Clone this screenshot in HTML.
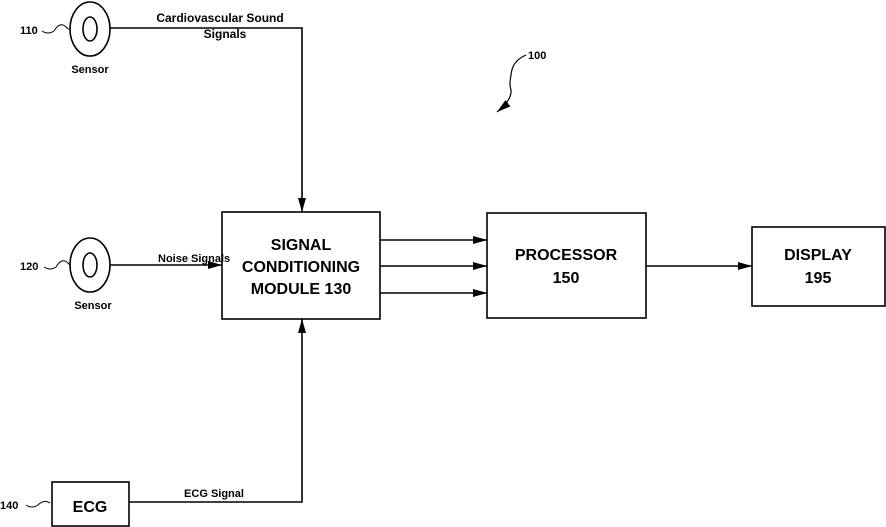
<!DOCTYPE html>
<html><head><style>
html,body{margin:0;padding:0;background:#fff;}
svg{display:block;}
text{font-family:"Liberation Sans",sans-serif;font-weight:bold;fill:#000;}
</style></head><body>
<svg width="886" height="527" viewBox="0 0 886 527" xmlns="http://www.w3.org/2000/svg">
<defs>
<marker id="a" markerWidth="14" markerHeight="10" refX="14" refY="5" orient="auto" markerUnits="userSpaceOnUse">
<path d="M0,1 L14,5 L0,9 Z" fill="#000"/></marker>
</defs>
<g fill="none" stroke="#000" stroke-width="1.6">
<!-- sensor 110 -->
<ellipse cx="90" cy="29" rx="20" ry="27"/>
<ellipse cx="90" cy="29" rx="7" ry="12"/>
<path d="M42,31 q6,4 12,0 q6,-10 12,-4 q3,3 4,2" stroke-width="1"/>
<path d="M110,28 H302 V212" marker-end="url(#a)"/>
<!-- sensor 120 -->
<ellipse cx="90" cy="265" rx="20" ry="27"/>
<ellipse cx="90" cy="265" rx="7" ry="12"/>
<path d="M44,267 q6,4 12,0 q6,-10 12,-4 q3,3 2,2" stroke-width="1"/>
<path d="M110,265 H222" marker-end="url(#a)"/>
<!-- boxes -->
<rect x="222" y="212" width="158" height="107"/>
<rect x="487" y="213" width="159" height="105"/>
<rect x="752" y="227" width="133" height="79"/>
<rect x="52" y="482" width="77" height="44"/>
<path d="M26,505 q6,4 12,0 q6,-6 12,-2" stroke-width="1"/>
<path d="M129,502 H302 V319" marker-end="url(#a)"/>
<path d="M380,240 H487" marker-end="url(#a)"/>
<path d="M380,266 H487" marker-end="url(#a)"/>
<path d="M380,293 H487" marker-end="url(#a)"/>
<path d="M646,266 H752" marker-end="url(#a)"/>
<path d="M526,55 q-14,6 -15,20 q-2,10 0,15 q1,10 -14,22" stroke-width="1.2" marker-end="url(#a)"/>
</g>
<text x="20" y="34" font-size="11">110</text>
<text x="20" y="270" font-size="11">120</text>
<text x="0" y="509" font-size="11">140</text>
<text x="528" y="59" font-size="11">100</text>
<text x="90" y="73" font-size="11" text-anchor="middle">Sensor</text>
<text x="93" y="309" font-size="11" text-anchor="middle">Sensor</text>
<text x="220" y="22" font-size="12" text-anchor="middle">Cardiovascular Sound</text>
<text x="225" y="38" font-size="12" text-anchor="middle">Signals</text>
<text x="158" y="262" font-size="11">Noise Signals</text>
<text x="214" y="497" font-size="11" text-anchor="middle">ECG Signal</text>
<text x="90" y="512" font-size="16" text-anchor="middle">ECG</text>
<text x="301" y="250" font-size="16" text-anchor="middle">SIGNAL</text>
<text x="301" y="272" font-size="16" text-anchor="middle">CONDITIONING</text>
<text x="301" y="294" font-size="16" text-anchor="middle">MODULE 130</text>
<text x="566" y="260" font-size="16" text-anchor="middle">PROCESSOR</text>
<text x="566" y="283" font-size="16" text-anchor="middle">150</text>
<text x="818" y="260" font-size="16" text-anchor="middle">DISPLAY</text>
<text x="818" y="283" font-size="16" text-anchor="middle">195</text>
</svg>
</body></html>
